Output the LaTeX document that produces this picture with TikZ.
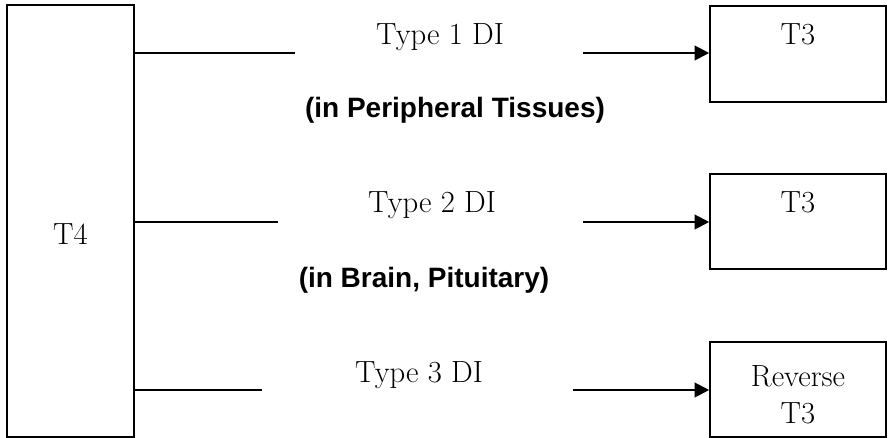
\documentclass[tikz,border=0pt]{standalone}
\usepackage{fontspec}
\newfontfamily\tagfont{Liberation Sans}
\usetikzlibrary{arrows.meta,positioning}

\begin{document}
\begin{tikzpicture}[x=0.75pt,y=-0.75pt,
  box/.style={draw,line width=1.2pt,inner sep=0pt},
  txt/.style={font=\fontsize{23}{27.75}\selectfont,inner sep=0pt,align=center},
  tag/.style={font=\tagfont\bfseries\fontsize{21}{25}\selectfont,inner sep=0pt},
  lin/.style={line width=1.6pt},
  arr/.style={-{Triangle[length=11pt,width=11pt]},line width=1.6pt}]
\useasboundingbox (0,0) rectangle (892,438);
% boxes
\node[box,minimum width=95.25pt,minimum height=324pt] (t4) at (70.5,221) {};
\node[box,minimum width=132pt,minimum height=72pt] (t3a) at (798,54) {};
\node[box,minimum width=132pt,minimum height=71.25pt] (t3b) at (798,221.5) {};
\node[box,minimum width=132pt,minimum height=71.25pt] (rt3) at (798,389.5) {};
% box texts
\node[txt,anchor=base] (t4txt) at (70.5,245) {T4};
\node[txt,anchor=base] (t3atxt) at (798,45) {T3};
\node[txt,anchor=base] (t3btxt) at (798,213) {T3};
\node[txt] (rt3txt) at (798,395) {Reverse\\T3};
% enzyme labels
\node[txt,anchor=base] (di1) at (440,45) {Type 1 DI};
\node[txt,anchor=base] (di2) at (432,213) {Type 2 DI};
\node[txt,anchor=base] (di3) at (419,382) {Type 3 DI};
\node[tag,anchor=base] (site1) at (455,118) {(in Peripheral Tissues)};
\node[tag,anchor=base] (site2) at (424,287) {(in Brain, Pituitary)};
% connectors
\coordinate (e1) at (295,53);
\coordinate (s1) at (583,53);
\coordinate (e2) at (278,222);
\coordinate (s2) at (583,222);
\coordinate (e3) at (262,390);
\coordinate (s3) at (573,390);
\draw[lin] (t4.east |- e1) -- (e1);
\draw[arr] (s1) -- (t3a.west |- s1);
\draw[lin] (t4.east |- e2) -- (e2);
\draw[arr] (s2) -- (t3b.west |- s2);
\draw[lin] (t4.east |- e3) -- (e3);
\draw[arr] (s3) -- (rt3.west |- s3);
\end{tikzpicture}
\end{document}
